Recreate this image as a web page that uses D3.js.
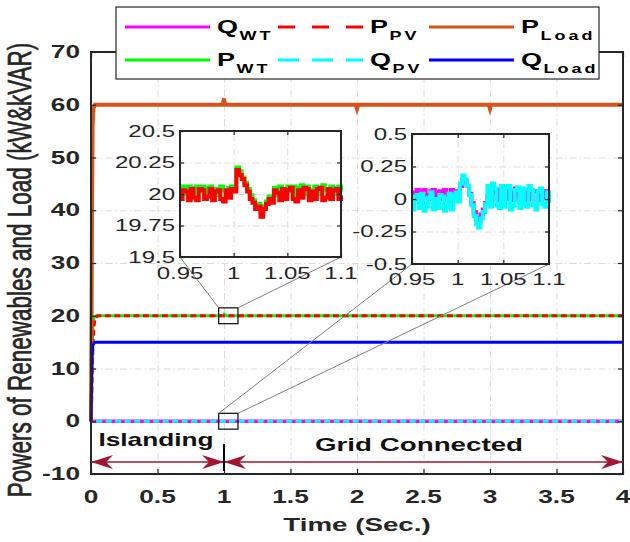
<!DOCTYPE html>
<html>
<head>
<meta charset="utf-8">
<script src="https://cdn.jsdelivr.net/npm/d3@7/dist/d3.min.js"></script>
<style>
  body { margin: 0; background: #fff; }
  svg { display: block; }
  text { font-family: "Liberation Sans", Arial, Helvetica, sans-serif; }
</style>
</head>
<body>
<svg id="chart" width="630" height="542"></svg>
<script>
// ---- main traces (time in s, value in kW / kVAR) ----
const tPLoad = [0, 0.004, 0.008, 0.012, 0.018, 0.03, 0.99, 1.0, 1.004, 1.012, 1.99, 2.0, 2.01, 2.99, 3.0, 3.01, 4];
const pLoad  = [0, 20, 42, 56, 59.3, 60, 60, 61.2, 60.5, 60, 60, 59.2, 60, 60, 59.2, 60, 60];
const tPWT   = [0, 0.005, 0.01, 0.015, 0.025, 0.04, 1.0, 1.003, 1.02, 4];
const pWT    = [0, 8, 15, 18.5, 19.8, 20, 20, 20.3, 20, 20];
const tPPV   = [0, 0.006, 0.012, 0.02, 0.03, 0.05, 4];
const pPV    = [0, 5, 12, 17.5, 19.5, 20, 20];
const tQLoad = [0, 0.004, 0.008, 0.015, 0.03, 4];
const qLoad  = [0, 8, 12.5, 14.6, 15, 15];
const tQ     = [0, 0.003, 0.008, 4];
const qWT    = [0, 0.3, 0, 0];
const qPV    = [0, 0.5, 0, 0];

// ---- zoomed window 0.95 .. 1.1 s, one sample every 2.5 ms ----
const tZoom = d3.range(0, 61).map(i => 0.95 + i * 0.0025);
const pWTz = [20.03, 20.06, 20.0, 20.06, 20.05, 19.99, 20.06, 20.02, 20.06, 19.99, 20.05, 20.06, 20.0, 20.04, 19.99, 20.06, 20.03, 19.99, 20.05, 20.06,
              20.05, 20.21, 20.18, 20.13, 20.09, 20.04, 19.99, 19.95, 19.91, 19.92, 19.86, 19.9, 19.94, 19.98, 19.97, 20.05, 19.99, 20.06, 20.04, 19.99,
              20.06, 20.02, 20.06, 19.99, 20.05, 20.07, 20.0, 20.06, 20.03, 19.99, 20.06, 20.05, 20.0, 20.07, 20.03, 19.99, 20.06, 20.05, 20.0, 20.06, 20.02];
const pPVz = [19.96, 20.03, 20.02, 19.95, 20.04, 19.97, 19.95, 20.04, 20.03, 19.96, 19.98, 20.04, 19.95, 20.02, 20.03, 19.96, 19.94, 20.03, 19.97, 20.04,
              20.02, 20.19, 20.15, 20.12, 20.07, 20.02, 19.96, 19.93, 19.88, 19.9, 19.82, 19.88, 19.92, 19.96, 19.93, 20.03, 20.01, 19.95, 20.04, 19.96,
              20.03, 20.05, 19.96, 19.94, 20.03, 19.97, 20.05, 20.04, 19.95, 20.02, 19.96, 20.04, 20.05, 19.95, 19.97, 20.04, 19.96, 20.03, 20.04, 19.96, 19.99];
const qWTz = [0.05, 0.0, 0.07, 0.06, 0.01, 0.07, 0.03, 0.0, 0.06, 0.07, 0.01, 0.05, 0.06, 0.0, 0.07, 0.03, 0.01, 0.07, 0.06, 0.04,
              0.06, 0.1, 0.15, 0.14, 0.1, 0.04, -0.03, -0.1, -0.15, -0.17, -0.12, -0.08, -0.03, 0.02, -0.02, 0.06, 0.05, -0.01, 0.07, -0.02,
              0.06, 0.0, 0.07, 0.05, -0.01, 0.08, 0.02, -0.02, 0.06, 0.05, -0.01, 0.07, 0.0, 0.06, 0.06, -0.01, 0.05, 0.01, 0.06, 0.0, 0.03];
const qPVz = [-0.08, 0.02, 0.03, -0.07, 0.04, -0.09, -0.06, 0.01, 0.05, -0.08, 0.0, -0.07, 0.03, 0.02, -0.09, -0.05, 0.04, -0.08, 0.01, 0.05,
              -0.02, 0.12, 0.18, 0.15, 0.1, 0.03, -0.05, -0.13, -0.19, -0.22, -0.15, -0.1, -0.04, 0.1, -0.06, 0.12, 0.08, -0.05, -0.07, 0.1,
              -0.06, 0.09, 0.1, -0.08, -0.05, 0.07, 0.09, -0.07, 0.08, -0.04, -0.06, 0.1, 0.07, -0.05, -0.08, 0.06, 0.08, -0.04, -0.06, 0.05, -0.03];

// ---- ticks ----
const xTicks = [0, 0.5, 1, 1.5, 2, 2.5, 3, 3.5, 4];
const yTicks = [-10, 0, 10, 20, 30, 40, 50, 60, 70];
const zTicksX = [0.95, 1, 1.05, 1.1];
const zTicksP = [19.5, 19.75, 20, 20.25, 20.5];
const zTicksQ = [-0.5, -0.25, 0, 0.25, 0.5];

const SX = 1.5;           // the exported figure is stretched sideways
const AX = "#262626";
const colors = { qWT: "#ff00ff", pWT: "#00ff00", pPV: "#ff0000", qPV: "#00ffff", pLoad: "#d95319", qLoad: "#0000ff" };

const svg = d3.select("#chart");

const x = d3.scaleLinear().domain([0, 4]).range([91, 623]);
const y = d3.scaleLinear().domain([-10, 70]).range([474, 52]);

function stretched(parent, px, py, str, size, weight, anchor, color) {
  return parent.append("g")
    .attr("transform", `translate(${px},${py}) scale(${SX},1)`)
    .append("text")
    .attr("text-anchor", anchor)
    .attr("font-size", size)
    .attr("font-weight", weight)
    .attr("fill", color || AX)
    .text(str);
}

function gridStyle(g) {
  g.select(".domain").remove();
  g.selectAll("line").attr("stroke", "#dcdcdc").attr("stroke-width", 1).attr("stroke-dasharray", "7,3,1.5,3");
  g.selectAll("text").remove();
}

function tickStyle(g) {
  g.select(".domain").remove();
  g.selectAll("line").attr("stroke", AX).attr("stroke-width", 1.2);
  g.selectAll("text").remove();
}

// grid
svg.append("g").attr("transform", `translate(0,${y(-10)})`)
  .call(d3.axisBottom(x).tickValues(xTicks).tickSize(-(y(-10) - y(70)))).call(gridStyle);
svg.append("g").attr("transform", `translate(${x(0)},0)`)
  .call(d3.axisLeft(y).tickValues(yTicks).tickSize(-(x(4) - x(0)))).call(gridStyle);

// main traces
function trace(ts, vs, color, width, dash) {
  const pts = ts.map((t, i) => [t, vs[i]]);
  svg.append("path").datum(pts)
    .attr("fill", "none").attr("stroke", color).attr("stroke-width", width)
    .attr("stroke-dasharray", dash || null)
    .attr("d", d3.line().x(d => x(d[0])).y(d => y(d[1])));
}
trace(tQ, qWT, colors.qWT, 3.5);
trace(tPWT, pWT, colors.pWT, 3);
trace(tPPV, pPV, colors.pPV, 3, "6,3.5");
trace(tQ, qPV, colors.qPV, 3, "6,3.5");
trace(tPLoad, pLoad, colors.pLoad, 4);
trace(tQLoad, qLoad, colors.qLoad, 3);

// axes box with inward ticks
svg.append("g").attr("transform", `translate(0,${y(-10)})`)
  .call(d3.axisBottom(x).tickValues(xTicks).tickSizeInner(-5).tickSizeOuter(0)).call(tickStyle);
svg.append("g").attr("transform", `translate(0,${y(70)})`)
  .call(d3.axisTop(x).tickValues(xTicks).tickSizeInner(-5).tickSizeOuter(0)).call(tickStyle);
svg.append("g").attr("transform", `translate(${x(0)},0)`)
  .call(d3.axisLeft(y).tickValues(yTicks).tickSizeInner(-5).tickSizeOuter(0)).call(tickStyle);
svg.append("g").attr("transform", `translate(${x(4)},0)`)
  .call(d3.axisRight(y).tickValues(yTicks).tickSizeInner(-5).tickSizeOuter(0)).call(tickStyle);
svg.append("rect").attr("x", x(0)).attr("y", y(70)).attr("width", x(4) - x(0)).attr("height", y(-10) - y(70))
  .attr("fill", "none").attr("stroke", AX).attr("stroke-width", 2);

xTicks.forEach(t => stretched(svg, x(t), 502.5, String(t), 17.5, "bold", "middle"));
yTicks.forEach(v => stretched(svg, 80, y(v) + 6.2, String(v), 17.5, "bold", "end"));

svg.append("g").attr("transform", `translate(357,531) scale(${SX},1)`)
  .append("text").attr("text-anchor", "middle").attr("font-size", 18.5).attr("font-weight", "bold").attr("fill", AX)
  .text("Time (Sec.)");
svg.append("g").attr("transform", `translate(31,270) scale(${SX},1) rotate(-90)`)
  .append("text").attr("text-anchor", "middle").attr("font-size", 22.5).attr("fill", AX)
  .attr("stroke", AX).attr("stroke-width", 0.45)
  .text("Powers of Renewables and Load (kW&kVAR)");

// zoom markers and connectors
const insets = [
  { left: 180, right: 341, top: 131, bottom: 257, yDom: [19.5, 20.5], yTicks: zTicksP, box: [18.5, 21.5],
    series: [[pWTz, colors.pWT], [pPVz, colors.pPV]], labelY: 279 },
  { left: 412, right: 549, top: 134, bottom: 264, yDom: [-0.5, 0.5], yTicks: zTicksQ, box: [-1.5, 1.5],
    series: [[qWTz, colors.qWT], [qPVz, colors.qPV]], labelY: 285 }
];

insets.forEach(ins => {
  const bx0 = x(0.96), bx1 = x(1.105), by0 = y(ins.box[1]), by1 = y(ins.box[0]);
  svg.append("rect").attr("x", bx0).attr("y", by0).attr("width", bx1 - bx0).attr("height", by1 - by0)
    .attr("fill", "none").attr("stroke", "#1a1a1a").attr("stroke-width", 1.3);
  svg.append("line").attr("x1", bx0).attr("y1", by0).attr("x2", ins.left).attr("y2", ins.bottom)
    .attr("stroke", "#808080").attr("stroke-width", 1);
  svg.append("line").attr("x1", bx1).attr("y1", by0).attr("x2", ins.right).attr("y2", ins.bottom)
    .attr("stroke", "#808080").attr("stroke-width", 1);
});

insets.forEach(ins => {
  const zx = d3.scaleLinear().domain([0.95, 1.1]).range([ins.left, ins.right]);
  const zy = d3.scaleLinear().domain(ins.yDom).range([ins.bottom, ins.top]);
  const g = svg.append("g");
  g.append("rect").attr("x", ins.left).attr("y", ins.top).attr("width", ins.right - ins.left)
    .attr("height", ins.bottom - ins.top).attr("fill", "#fff");
  g.append("g").attr("transform", `translate(0,${ins.bottom})`)
    .call(d3.axisBottom(zx).tickValues(zTicksX).tickSize(-(ins.bottom - ins.top))).call(gridStyle);
  g.append("g").attr("transform", `translate(${ins.left},0)`)
    .call(d3.axisLeft(zy).tickValues(ins.yTicks).tickSize(-(ins.right - ins.left))).call(gridStyle);

  ins.series.forEach(([vals, color]) => {
    g.append("path").datum(vals)
      .attr("fill", "none").attr("stroke", color).attr("stroke-width", 4)
      .attr("d", d3.line().curve(d3.curveStepAfter).x((d, i) => zx(tZoom[i])).y(d => zy(d)));
  });

  g.append("g").attr("transform", `translate(0,${ins.bottom})`)
    .call(d3.axisBottom(zx).tickValues(zTicksX).tickSizeInner(-4).tickSizeOuter(0)).call(tickStyle);
  g.append("g").attr("transform", `translate(0,${ins.top})`)
    .call(d3.axisTop(zx).tickValues(zTicksX).tickSizeInner(-4).tickSizeOuter(0)).call(tickStyle);
  g.append("g").attr("transform", `translate(${ins.left},0)`)
    .call(d3.axisLeft(zy).tickValues(ins.yTicks).tickSizeInner(-4).tickSizeOuter(0)).call(tickStyle);
  g.append("g").attr("transform", `translate(${ins.right},0)`)
    .call(d3.axisRight(zy).tickValues(ins.yTicks).tickSizeInner(-4).tickSizeOuter(0)).call(tickStyle);
  g.append("rect").attr("x", ins.left).attr("y", ins.top).attr("width", ins.right - ins.left)
    .attr("height", ins.bottom - ins.top).attr("fill", "none").attr("stroke", AX).attr("stroke-width", 2);

  zTicksX.forEach(t => stretched(g, zx(t), ins.labelY, String(t), 16, "normal", "middle"));
  ins.yTicks.forEach(v => stretched(g, ins.left - 5, zy(v) + 5.6, String(v), 16, "normal", "end"));
});

// legend
const legendItems = [
  { main: "Q", sub: "WT", color: colors.qWT, dash: null, col: 0, row: 0 },
  { main: "P", sub: "WT", color: colors.pWT, dash: null, col: 0, row: 1 },
  { main: "P", sub: "PV", color: colors.pPV, dash: "17,17", col: 1, row: 0 },
  { main: "Q", sub: "PV", color: colors.qPV, dash: "21,13", col: 1, row: 1 },
  { main: "P", sub: "Load", color: colors.pLoad, dash: null, col: 2, row: 0 },
  { main: "Q", sub: "Load", color: colors.qLoad, dash: null, col: 2, row: 1 }
];
const legX = [125, 278, 429];
const legY = [27, 60];
const leg = svg.append("g");
leg.append("rect").attr("x", 116).attr("y", 7).attr("width", 483).attr("height", 72)
  .attr("fill", "#fff").attr("stroke", AX).attr("stroke-width", 1.2);
legendItems.forEach(it => {
  const lx = legX[it.col], ly = legY[it.row];
  leg.append("line").attr("x1", lx).attr("x2", lx + 85).attr("y1", ly).attr("y2", ly)
    .attr("stroke", it.color).attr("stroke-width", 3).attr("stroke-dasharray", it.dash);
  const t = leg.append("g").attr("transform", `translate(${lx + 92},${ly + 6}) scale(${SX},1)`)
    .append("text").attr("font-weight", "bold").attr("fill", "#000");
  t.append("tspan").attr("font-size", 18).text(it.main);
  t.append("tspan").attr("font-size", 12).attr("dy", 6.5).attr("dx", 1).attr("letter-spacing", 2).text(it.sub);
});

// operating mode annotation
const arrowColor = "#a2142f";
const arrowY = 462;
function head(px, dir) {
  const L = 22, W = 7, N = 15;
  svg.append("path")
    .attr("d", `M${px},${arrowY} L${px + dir * L},${arrowY - W} L${px + dir * N},${arrowY} L${px + dir * L},${arrowY + W} Z`)
    .attr("fill", arrowColor);
}
[[0, 1], [1, 4]].forEach(([a, b]) => {
  svg.append("line").attr("x1", x(a)).attr("x2", x(b)).attr("y1", arrowY).attr("y2", arrowY)
    .attr("stroke", arrowColor).attr("stroke-width", 1.5);
  head(x(a), 1);
  head(x(b), -1);
});
svg.append("line").attr("x1", x(1)).attr("x2", x(1)).attr("y1", 444).attr("y2", 471)
  .attr("stroke", "#000").attr("stroke-width", 2);
stretched(svg, 156, 446, "Islanding", 17.5, "bold", "middle", "#111");
stretched(svg, 419, 451, "Grid Connected", 18.5, "bold", "middle", "#111");
</script>
</body>
</html>
